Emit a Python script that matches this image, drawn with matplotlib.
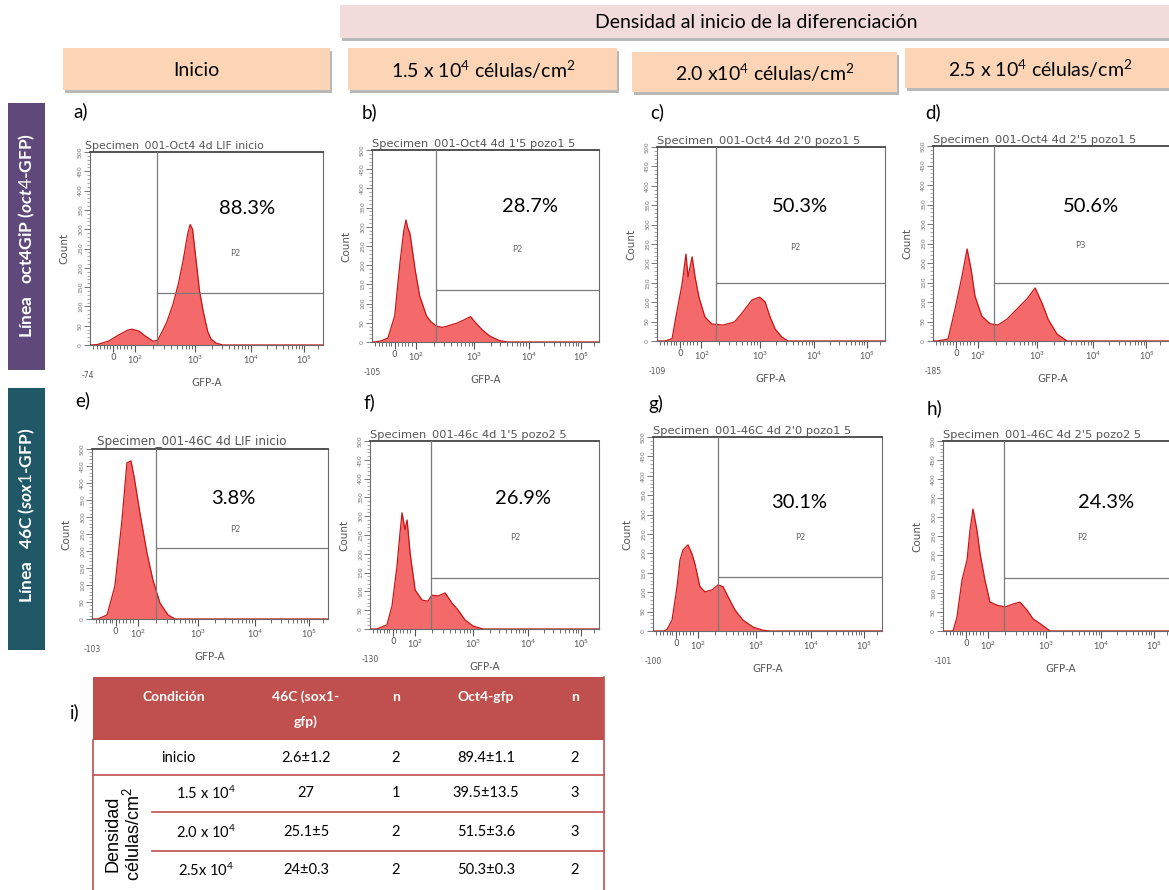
import matplotlib
matplotlib.use('Agg')
import matplotlib.pyplot as plt
from matplotlib.patches import Rectangle
from matplotlib.transforms import Bbox, TransformedBbox
import numpy as np

plt.rcParams['font.family'] = ['Lato', 'DejaVu Sans']
plt.rcParams['mathtext.fontset'] = 'custom'
plt.rcParams['mathtext.rm'] = 'Lato'
plt.rcParams['mathtext.it'] = 'Lato:italic:bold'
plt.rcParams['mathtext.bf'] = 'Lato:bold'

W, H, DPI = 1169, 890, 100

# ---------------- data ----------------
top_header = 'Densidad al inicio de la diferenciación'
col_headers = ['Inicio', '1.5 x 10$^4$ células/cm$^2$', '2.0 x10$^4$ células/cm$^2$', '2.5 x 10$^4$ células/cm$^2$']
row_headers = ['Línea   oct4GiP ($\\mathit{oct4}$-GFP)', 'Línea   46C ($\\mathit{sox1}$-GFP)']
panel_ids = ['a', 'b', 'c', 'd', 'e', 'f', 'g', 'h']
gate_percent = ['88.3%', '28.7%', '50.3%', '50.6%', '3.8%', '26.9%', '30.1%', '24.3%']
gate_names = ['P2', 'P2', 'P2', 'P3', 'P2', 'P2', 'P2', 'P2']
specimen_titles = ['Specimen_001-Oct4 4d LIF inicio', "Specimen_001-Oct4 4d 1'5 pozo1 5",
                   "Specimen_001-Oct4 4d 2'0 pozo1 5", "Specimen_001-Oct4 4d 2'5 pozo1 5",
                   'Specimen_001-46C 4d LIF inicio', "Specimen_001-46c 4d 1'5 pozo2 5",
                   "Specimen_001-46C 4d 2'0 pozo1 5", "Specimen_001-46C 4d 2'5 pozo2 5"]
neg_labels = ['-74', '-105', '-109', '-185', '-103', '-130', '-100', '-101']
gate_x = [28.8, 28.2, 25.9, 26.3, 27.1, 26.6, 28.4, 26.6]
gate_level = [135, 135, 150, 150, 210, 135, 140, 140]
tick_labels = ['0', '$10^2$', '$10^3$', '$10^4$', '$10^5$']
tick_values = [10, 19.5, 45, 69, 92]

hist_a_x = [0, 3, 8, 12, 16, 18, 21, 24, 27, 29, 31, 33, 35.6, 38, 40, 42, 43, 44, 45.5, 47, 48.5, 50.5, 52, 54, 57, 100]
hist_a_y = [0, 1, 10, 25, 38, 41, 36, 22, 10, 12, 35, 60, 105, 160, 220, 290, 312, 300, 220, 140, 90, 35, 15, 5, 0, 0]
hist_b_x = [0, 1.3, 4, 7, 10, 12.3, 14, 15, 15.6, 16.7, 18, 19, 21, 24, 26, 28.6, 31, 33, 35, 37.4, 40, 42, 43.5, 44.5, 46, 48.5, 52, 56, 59.5, 100]
hist_b_y = [0, 0, 3, 10, 68, 205, 290, 318, 300, 283, 230, 188, 120, 68, 52, 41, 38, 41, 45, 49, 56, 62, 66, 58, 48, 32, 15, 4, 0, 0]
hist_c_x = [0, 3.5, 6.6, 8.3, 11, 12.7, 13.6, 15.4, 16.7, 18.4, 21, 24, 29, 34, 37.7, 41.7, 45, 47.4, 49.6, 51.8, 54.8, 57.5, 100]
hist_c_y = [0, 0, 6, 62, 147, 224, 165, 217, 165, 113, 62, 44, 41, 49, 75, 106, 113, 101, 62, 31, 10, 0, 0]
hist_d_x = [0, 1.7, 6.5, 9.5, 12.5, 14.7, 16.4, 18.1, 21, 24.6, 28, 31.9, 36.2, 40.5, 44, 47, 49.6, 53.4, 57.8, 103]
hist_d_y = [0, 0, 5, 82, 166, 236, 184, 115, 64, 44, 41, 56, 82, 108, 136, 97, 56, 18, 0, 0]
hist_e_x = [0, 2.5, 6.4, 9.7, 12.7, 14.8, 16.5, 17.8, 20.3, 23.3, 25.8, 28.8, 32.2, 35.2, 100]
hist_e_y = [0, 0, 12, 97, 291, 459, 465, 420, 312, 194, 115, 47, 12, 0, 0]
hist_f_x = [0, 3, 7.4, 9.6, 11.8, 13.1, 14, 15.3, 16.2, 17.5, 19.7, 22.7, 25.3, 27, 29.7, 32.8, 35.8, 38.4, 41.5, 45, 49.3, 100]
hist_f_y = [0, 0, 11, 61, 168, 255, 309, 264, 290, 202, 104, 77, 74, 90, 88, 96, 69, 51, 24, 8, 0, 0]
hist_g_x = [0, 5, 6.1, 8.3, 10.5, 11.8, 13.1, 15.3, 17, 18.3, 20.5, 22.7, 25.8, 28.4, 30.6, 32.8, 35.8, 39.3, 43.7, 48, 51, 100]
hist_g_y = [0, 0, 4, 28, 114, 183, 209, 222, 199, 173, 114, 101, 106, 119, 114, 88, 54, 28, 10, 2, 0, 0]
hist_h_x = [0, 4.4, 6.1, 8.3, 10.5, 11.8, 13.1, 14.8, 16.2, 18.3, 20.5, 23.6, 27.1, 30.6, 33.6, 36.7, 39.3, 43.2, 46.7, 103]
hist_h_y = [0, 0, 37, 134, 187, 266, 321, 266, 203, 134, 76, 68, 63, 71, 76, 55, 32, 16, 0, 0]
hists = [(hist_a_x, hist_a_y), (hist_b_x, hist_b_y), (hist_c_x, hist_c_y), (hist_d_x, hist_d_y),
         (hist_e_x, hist_e_y), (hist_f_x, hist_f_y), (hist_g_x, hist_g_y), (hist_h_x, hist_h_y)]

table_cols = ['Condición', '46C (sox1-\ngfp)', 'n', 'Oct4-gfp', 'n']
table_conditions = ['inicio', '1.5 x 10$^4$', '2.0 x 10$^4$', '2.5x 10$^4$']
table_46c = ['2.6±1.2', '27', '25.1±5', '24±0.3']
table_46c_n = ['2', '1', '2', '2']
table_oct4 = ['89.4±1.1', '39.5±13.5', '51.5±3.6', '50.3±0.3']
table_oct4_n = ['2', '3', '3', '2']

# ---------------- layout ----------------
frames = [(90, 152, 323, 345), (372, 150, 599, 342), (657, 147, 885, 341), (933, 146, 1172, 341),
          (92, 449, 328, 619), (370, 441, 599, 629), (653, 437, 882, 631), (943, 441, 1178, 631)]
xmax = [100, 100, 100, 103, 100, 100, 100, 102.6]
pct_pos = [(247, 208), (530, 207), (800, 207), (1091, 206), (233, 498), (523, 498), (799, 502), (1106, 502)]
pname_pos = [(235, 253), (517, 250), (795, 248), (1080, 245), (235, 530), (515, 538), (800, 538), (1082, 537)]
label_pos = [(73, 111), (362, 112), (650, 112), (925, 112), (75, 400), (364, 402), (648, 404), (927, 408)]
title_off = [-0.02, 0.0, 0.0, 0.0, 0.02, 0.0, 0.0, 0.0]
title_size = [7.8, 8.2, 8.2, 8.2, 8.6, 8.2, 8.2, 8.2]

fig = plt.figure(figsize=(W / DPI, H / DPI), dpi=DPI)
bg = fig.add_axes([0, 0, 1, 1], zorder=0)
bg.set_xlim(0, W)
bg.set_ylim(H, 0)
bg.axis('off')


def box(x0, y0, x1, y1, color, shadow=True):
    if shadow:
        bg.add_patch(Rectangle((x0 + 2, y0 + 3), x1 - x0, y1 - y0, color='#b8b8b8', lw=0, zorder=1))
    bg.add_patch(Rectangle((x0, y0), x1 - x0, y1 - y0, color=color, lw=0, zorder=2))


# headers
box(340, 5, 1172, 38, '#F2DCDB')
bg.text(756, 23, top_header, ha='center', va='center', fontsize=14, zorder=3)
hdr_boxes = [(63, 48, 330, 90), (348, 48, 617, 90), (632, 52, 897, 92), (905, 48, 1172, 88)]
hdr_text_x = [196, 483, 765, 1040]
for (x0, y0, x1, y1), t, tx in zip(hdr_boxes, col_headers, hdr_text_x):
    box(x0, y0, x1, y1, '#FBD5B5')
    bg.text(tx, (y0 + y1) / 2 + 1, t, ha='center', va='center', fontsize=14, zorder=3)

# row header boxes
bg.add_patch(Rectangle((8, 103), 37, 267, color='#5F497A', lw=0, zorder=2))
bg.add_patch(Rectangle((8, 388), 37, 262, color='#215868', lw=0, zorder=2))
bg.text(27, 236, row_headers[0], rotation=90, ha='center', va='center', color='white',
        fontsize=12.5, fontweight='bold', zorder=3)
bg.text(27, 515, row_headers[1], rotation=90, ha='center', va='center', color='white',
        fontsize=12.5, fontweight='bold', zorder=3)

# minor ticks along biexponential axis
minor_x = [1.5, 3, 4.5, 6, 7.5, 8.5, 11.5, 13, 14.5, 16, 17.5]
for lo, hi in [(19.5, 45), (45, 69), (69, 92)]:
    for k in range(2, 10):
        minor_x.append(lo + np.log10(k) * (hi - lo))
minor_x.append(98)

for i in range(8):
    l, t, r, b = frames[i]
    ax = fig.add_axes([l / W, 1 - b / H, (r - l) / W, (b - t) / H], zorder=2)
    hx, hy = hists[i]
    ax.fill_between(hx, hy, color='#F46A6A', lw=0, zorder=2)
    ax.plot(hx, hy, color='#C81414', lw=0.9, zorder=3)
    ax.set_xlim(0, xmax[i])
    ax.set_ylim(0, 500)
    # gate
    ax.axvline(gate_x[i], color='#7a7a7a', lw=0.9, zorder=4)
    ax.plot([gate_x[i], xmax[i]], [gate_level[i]] * 2, color='#7a7a7a', lw=0.9, zorder=4)
    for s in ['left', 'bottom', 'right']:
        ax.spines[s].set_color('#6a6a6a')
        ax.spines[s].set_linewidth(0.8)
    ax.spines['top'].set_color('#444444')
    ax.spines['top'].set_linewidth(1.3)
    ax.set_xticks(tick_values)
    ax.set_xticklabels(tick_labels, fontsize=6.5, color='#555555', family=['DejaVu Sans'])
    ax.set_xticks(minor_x, minor=True)
    ax.set_yticks(range(0, 501, 50))
    ax.set_yticklabels([str(v) for v in range(0, 501, 50)], fontsize=4.5, rotation=90,
                       va='center', color='#777777', family=['DejaVu Sans'])
    ax.set_yticks(range(0, 501, 10), minor=True)
    ax.tick_params(axis='x', which='major', length=5, width=0.8, color='#555555', pad=1)
    ax.tick_params(axis='x', which='minor', length=3, width=0.6, color='#555555')
    ax.tick_params(axis='y', which='major', length=4, width=0.7, color='#777777', pad=1)
    ax.tick_params(axis='y', which='minor', length=2, width=0.5, color='#888888')
    ax.annotate(neg_labels[i], xy=(0, 0), xycoords='axes fraction', xytext=(-6, -25),
                textcoords='offset points', fontsize=5.5, color='#555555', family=['DejaVu Sans'],
                ha='left', va='bottom')
    ax.set_xlabel('GFP-A', fontsize=7.5, color='#555555', labelpad=9, family=['DejaVu Sans'])
    ax.set_ylabel('Count', fontsize=7.5, color='#555555', labelpad=6, family=['DejaVu Sans'])
    tt = ax.text(title_off[i], 1.005, specimen_titles[i], transform=ax.transAxes, ha='left',
                 va='bottom', fontsize=title_size[i], color='#555555', family=['DejaVu Sans'])
    tt.set_clip_box(TransformedBbox(Bbox([[-0.2, 0.0], [1.0, 1.2]]), ax.transAxes))
    tt.set_clip_on(True)
    bg.text(label_pos[i][0], label_pos[i][1], panel_ids[i] + ')', ha='left', va='center',
            fontsize=13.5, zorder=5)

# overlay for gate annotations (above histogram axes)
top = fig.add_axes([0, 0, 1, 1], zorder=5)
top.set_xlim(0, W)
top.set_ylim(H, 0)
top.axis('off')
for i in range(8):
    top.text(pct_pos[i][0], pct_pos[i][1], gate_percent[i], ha='center', va='center', fontsize=14.5)
    top.text(pname_pos[i][0], pname_pos[i][1], gate_names[i], ha='center', va='center',
             fontsize=6, color='#666666', family=['DejaVu Sans'])

# ---------------- table ----------------
red = '#C0504D'
TL, TR = 93, 604
bg.add_patch(Rectangle((TL, 677), TR - TL, 63, color=red, lw=0, zorder=2))
bg.text(70, 712, 'i)', ha='left', va='center', fontsize=13.5, zorder=3)
col_x = [174, 306, 396, 486, 575]
for cx, c in zip(col_x, table_cols):
    for k, line in enumerate(c.split('\n')):
        bg.text(cx, 697 + 25 * k, line, ha='center', va='center', color='white', fontsize=10,
                fontweight='bold', zorder=3)
row_y = [758, 793, 832, 870]
cond_x = [178, 206, 206, 206]
for j in range(4):
    y = row_y[j]
    bg.text(cond_x[j], y, table_conditions[j], ha='center', va='center', fontsize=10.5, zorder=3)
    bg.text(col_x[1], y, table_46c[j], ha='center', va='center', fontsize=10.5, zorder=3)
    bg.text(col_x[2], y, table_46c_n[j], ha='center', va='center', fontsize=10.5, zorder=3)
    bg.text(col_x[3], y, table_oct4[j], ha='center', va='center', fontsize=10.5, zorder=3)
    bg.text(col_x[4], y, table_oct4_n[j], ha='center', va='center', fontsize=10.5, zorder=3)
bg.text(124, 834, 'Densidad\ncélulas/cm$^2$', rotation=90, ha='center', va='center', fontsize=13,
        family=['Liberation Sans', 'DejaVu Sans'], linespacing=0.95, zorder=3)
bg.plot([TL, TL], [740, 890], color=red, lw=1.2, zorder=3)
bg.plot([TR, TR], [677, 890], color=red, lw=1.2, zorder=3)
bg.plot([TL, TR], [775, 775], color=red, lw=1.2, zorder=3)
bg.plot([152, TR], [812, 812], color=red, lw=1.2, zorder=3)
bg.plot([152, TR], [851, 851], color=red, lw=1.2, zorder=3)

fig.savefig('out.png', dpi=DPI)
